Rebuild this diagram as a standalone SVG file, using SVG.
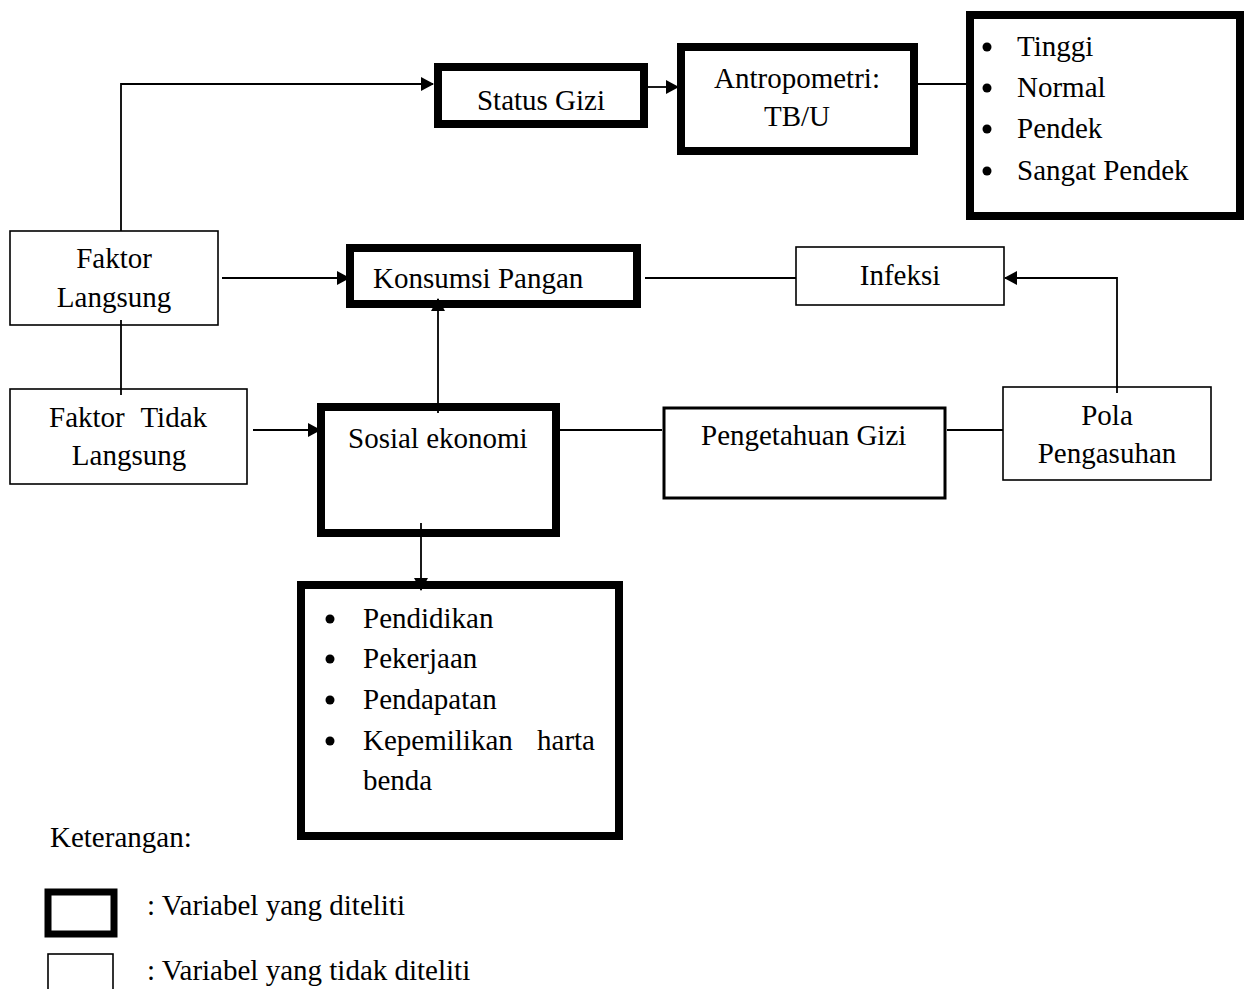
<svg xmlns="http://www.w3.org/2000/svg" width="1248" height="989" viewBox="0 0 1248 989">
<style>
text{font-family:"Liberation Serif","Times New Roman",serif;font-size:29px;fill:#000}
.thick{fill:#fff;stroke:#000;stroke-width:8}
.mid{fill:#fff;stroke:#000;stroke-width:3}
.thin{fill:#fff;stroke:#000;stroke-width:1.6}
.c{text-anchor:middle}
.e{text-anchor:end}
.con{fill:none;stroke:#000;stroke-width:1.8}
</style>
<defs>
<marker id="ah" markerUnits="userSpaceOnUse" markerWidth="13" markerHeight="14" refX="12" refY="7" orient="auto">
<path d="M0,0 L13,7 L0,14 z" fill="#000"/>
</marker>
</defs>
<rect width="1248" height="989" fill="#fff"/>
<g id="status-gizi"><rect class="thick" x="438" y="67" width="206" height="57"/><text x="541" y="110" class="c">Status Gizi</text></g>
<g id="antropometri"><rect class="thick" x="681" y="47" width="233" height="104"/><text x="797" y="88" class="c">Antropometri:</text><text x="797" y="126" class="c">TB/U</text></g>
<g id="kategori"><rect class="thick" x="970" y="15" width="270" height="201"/>
<circle cx="987" cy="47" r="4.5"/><text x="1017" y="56">Tinggi</text>
<circle cx="987" cy="88" r="4.5"/><text x="1017" y="97">Normal</text>
<circle cx="987" cy="129" r="4.5"/><text x="1017" y="138">Pendek</text>
<circle cx="987" cy="171" r="4.5"/><text x="1017" y="180">Sangat Pendek</text></g>
<g id="faktor-langsung"><rect class="thin" x="10" y="231" width="208" height="94"/><text x="114" y="268" class="c">Faktor</text><text x="114" y="307" class="c">Langsung</text></g>
<g id="konsumsi-pangan"><rect class="thick" x="350" y="248" width="287" height="56"/><text x="373" y="288">Konsumsi Pangan</text></g>
<g id="infeksi"><rect class="thin" x="796" y="247" width="208" height="58"/><text x="900" y="285" class="c">Infeksi</text></g>
<g id="faktor-tidak-langsung"><rect class="thin" x="10" y="389" width="237" height="95"/><text x="49" y="427">Faktor</text><text x="207" y="427" class="e">Tidak</text><text x="129" y="465" class="c">Langsung</text></g>
<g id="sosial-ekonomi"><rect class="thick" x="321" y="407" width="235" height="126"/><text x="348" y="448">Sosial ekonomi</text></g>
<g id="pengetahuan-gizi"><rect class="mid" x="664" y="408" width="281" height="90"/><text x="701" y="445">Pengetahuan Gizi</text></g>
<g id="pola-pengasuhan"><rect class="thin" x="1003" y="387" width="208" height="93"/><text x="1107" y="425" class="c">Pola</text><text x="1107" y="463" class="c">Pengasuhan</text></g>
<g id="indikator-sosial"><rect class="thick" x="301" y="585" width="318" height="251"/>
<circle cx="330" cy="619" r="4.5"/><text x="363" y="628">Pendidikan</text>
<circle cx="330" cy="659" r="4.5"/><text x="363" y="668">Pekerjaan</text>
<circle cx="330" cy="700" r="4.5"/><text x="363" y="709">Pendapatan</text>
<circle cx="330" cy="741" r="4.5"/><text x="363" y="750">Kepemilikan</text><text x="595" y="750" class="e">harta</text>
<text x="363" y="790">benda</text></g>
<g id="connectors">
<path class="con" d="M121,231 V84 H433" marker-end="url(#ah)"/>
<path class="con" d="M648,87 H678" marker-end="url(#ah)"/>
<path class="con" d="M918,84 H966"/>
<path class="con" d="M222,278 H349" marker-end="url(#ah)"/>
<path class="con" d="M645,278 H796"/>
<path class="con" d="M1117,393 V278 H1005" marker-end="url(#ah)"/>
<path class="con" d="M121,320 V395"/>
<path class="con" d="M253,430 H320" marker-end="url(#ah)"/>
<path class="con" d="M438,413 V299" marker-end="url(#ah)"/>
<path class="con" d="M560,430 H662"/>
<path class="con" d="M947,430 H1003"/>
<path class="con" d="M421,523 V590" marker-end="url(#ah)"/>
</g>
<g id="legend">
<text x="50" y="847">Keterangan:</text>
<rect x="48" y="892" width="66" height="42" fill="#fff" stroke="#000" stroke-width="7"/>
<text x="147" y="915">: Variabel yang diteliti</text>
<rect class="thin" x="48" y="954" width="65" height="40"/>
<text x="147" y="980">: Variabel yang tidak diteliti</text>
</g>
</svg>
